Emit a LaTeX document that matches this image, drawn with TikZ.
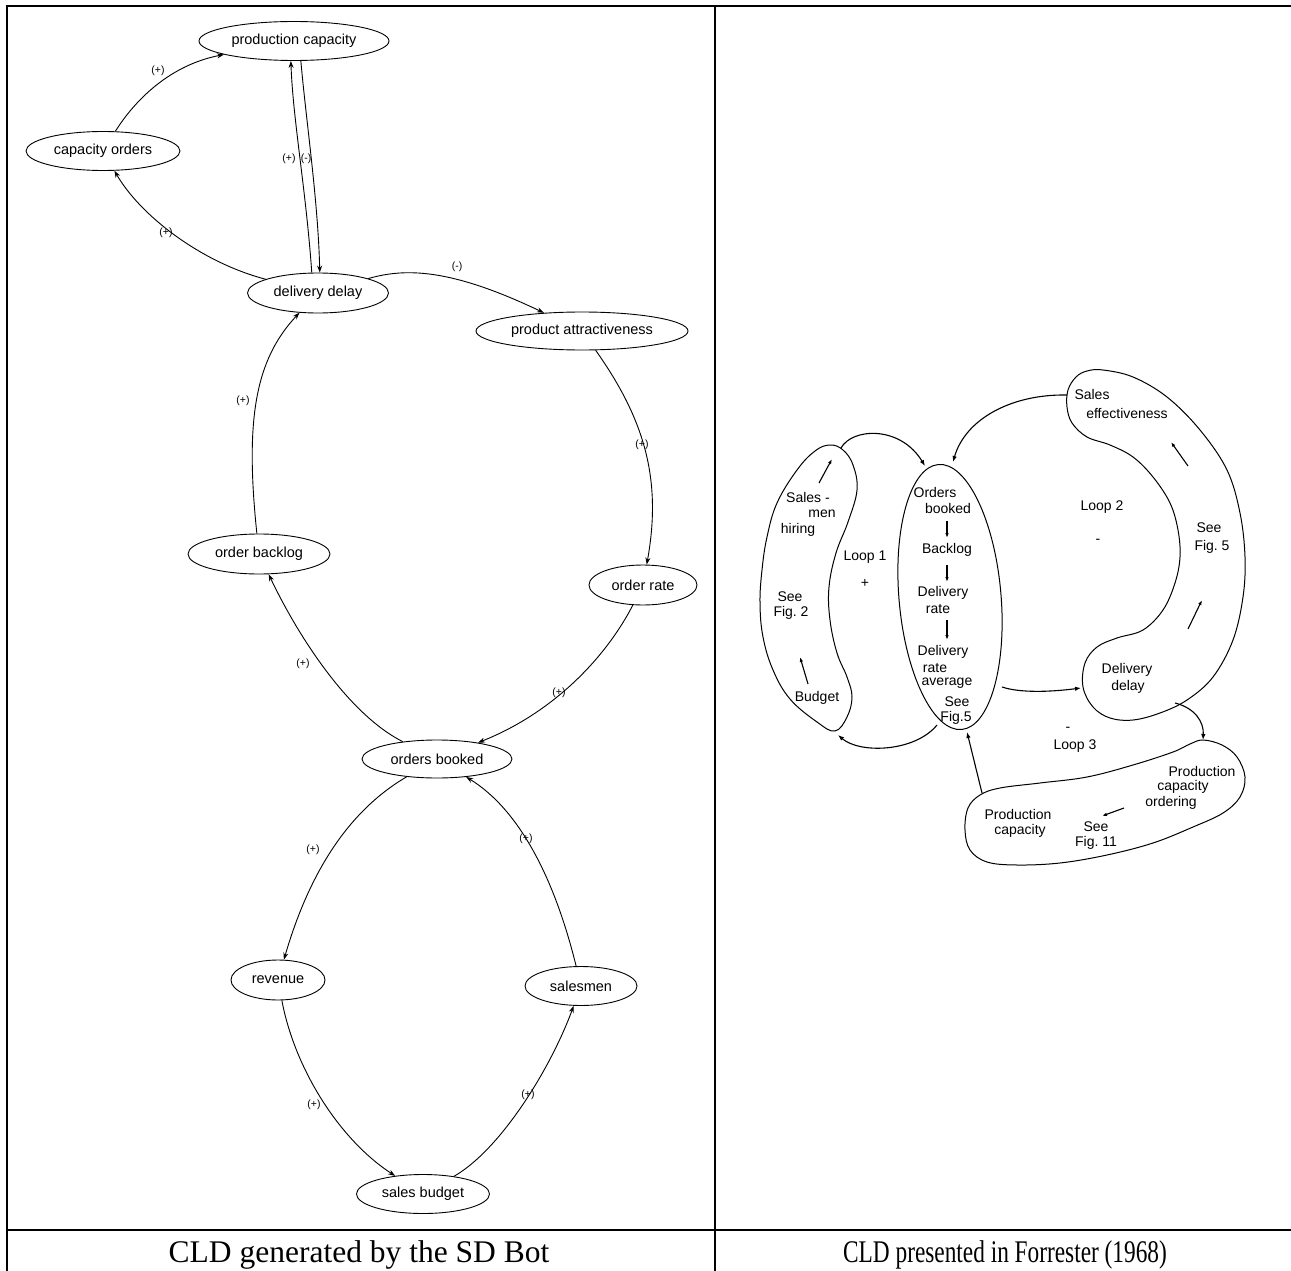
\documentclass[tikz,border=0pt]{standalone}
\usepackage{fontspec}
\setmainfont{Liberation Serif}
\newfontfamily\arialf{Liberation Sans}
\usetikzlibrary{shapes.geometric,arrows.meta}
\tikzset{
  var/.style={ellipse, draw, line width=0.9pt, inner sep=0pt, font=\arialf\fontsize{14.5}{16}\selectfont},
  lnk/.style={draw, line width=0.9pt, -{Stealth[length=7pt,width=5pt]}},
  pol/.style={font=\arialf\fontsize{10.5}{12}\selectfont, inner sep=0pt},
  hand/.style={font=\arialf\fontsize{14}{16}\selectfont, inner sep=0pt},
  blob/.style={draw, line width=1pt},
  farr/.style={line width=1.1pt, -{Latex[length=6pt,width=4.5pt]}},
  tarr/.style={line width=1.1pt, -{Latex[length=5pt,width=3.5pt]}},
  tbl/.style={line width=2.4pt},
  capt/.style={inner sep=0pt, font=\fontsize{31.5}{36}\selectfont}
}
\begin{document}
\begin{tikzpicture}[x=1pt,y=-1pt]
\useasboundingbox (0,0) rectangle (1291,1271);
% table
\draw[tbl] (7,6) -- (1291,6);
\draw[tbl] (7,5) -- (7,1271);
\draw[tbl] (715,6) -- (715,1271);
\draw[tbl] (7,1230) -- (1291,1230);
\node[capt] (cap1) at (359,1255) {CLD generated by the SD Bot};
\node[capt, xscale=0.74] (cap2) at (1005,1255) {CLD presented in Forrester (1968)};

% ---------- left diagram ----------
\node[var, minimum width=190pt, minimum height=39pt] (prod) at (294,41) {production capacity};
\node[var, minimum width=154pt, minimum height=39pt] (cap) at (103,151) {capacity orders};
\node[var, minimum width=141pt, minimum height=40pt] (dd) at (318,293) {delivery delay};
\node[var, minimum width=212pt, minimum height=38pt] (pa) at (582,331) {product attractiveness};
\node[var, minimum width=142pt, minimum height=40pt] (obl) at (259,554) {order backlog};
\node[var, minimum width=108pt, minimum height=40pt] (ordr) at (643,585) {order rate};
\node[var, minimum width=150pt, minimum height=38pt] (ob) at (437,759) {orders booked};
\node[var, minimum width=94pt, minimum height=40pt] (rev) at (278,980) {revenue};
\node[var, minimum width=112pt, minimum height=39pt] (sm) at (581,986) {salesmen};
\node[var, minimum width=133pt, minimum height=39pt] (sb) at (423,1194) {sales budget};

\draw[lnk] (cap) .. controls (135,100) and (170,65) .. (prod);
\draw[lnk] (dd) .. controls (200,262) and (140,215) .. (cap);
\draw[lnk] (dd.107) .. controls (306,190) and (293,120) .. (prod.261);
\draw[lnk] (prod.289) .. controls (306,120) and (318,200) .. (dd.85);
\draw[lnk] (dd) .. controls (405,268) and (450,268) .. (pa);
\draw[lnk] (pa) .. controls (645,420) and (662,480) .. (ordr);
\draw[lnk] (obl) .. controls (245,420) and (255,360) .. (dd);
\draw[lnk] (ob) .. controls (350,715) and (300,640) .. (obl);
\draw[lnk] (ordr) .. controls (610,650) and (560,710) .. (ob);
\draw[lnk] (ob) .. controls (350,810) and (310,870) .. (rev);
\draw[lnk] (sm) .. controls (555,880) and (520,810) .. (ob);
\draw[lnk] (rev) .. controls (295,1070) and (340,1140) .. (sb);
\draw[lnk] (sb) .. controls (500,1150) and (550,1070) .. (sm);

\node[pol] (l1) at (158,71) {(+)};
\node[pol] (l2) at (166,233) {(+)};
\node[pol] (l3) at (289,159) {(+)};
\node[pol] (l4) at (306,159) {(-)};
\node[pol] (l5) at (457,267) {(-)};
\node[pol] (l6) at (642,445) {(+)};
\node[pol] (l7) at (243,401) {(+)};
\node[pol] (l8) at (303,664) {(+)};
\node[pol] (l9) at (559,693) {(+)};
\node[pol] (l10) at (313,850) {(+)};
\node[pol] (l11) at (526,839) {(+)};
\node[pol] (l12) at (314,1105) {(+)};
\node[pol] (l13) at (528,1095) {(+)};

% ---------- right diagram (Forrester) ----------
% left blob
\draw[blob] plot[smooth cycle, tension=0.65] coordinates {
  (830,445) (843,450) (853,465) (857,490) (848,522) (836,553) (829,587)
  (830,620) (837,653) (847,677) (852,697) (847,717) (835,731) (817,722)
  (790,699) (773,670) (763,637) (760,603) (762,570) (767,537) (777,503)
  (797,470) (815,451)};
% middle egg
\draw[blob, rotate around={5:(950,597)}] (950,597) ellipse [x radius=51, y radius=133];
% crescent
\draw[blob] plot[smooth cycle, tension=0.6] coordinates {
  (1087,371) (1103,370) (1133,377) (1167,397) (1200,430) (1227,470)
  (1240,513) (1245,557) (1243,597) (1233,640) (1213,677) (1187,700)
  (1160,713) (1133,720) (1110,718) (1093,707) (1083,687) (1085,663)
  (1097,647) (1117,638) (1143,630) (1163,610) (1175,583) (1180,557)
  (1178,530) (1170,503) (1153,477) (1133,457) (1110,445) (1087,437)
  (1072,423) (1067,407) (1068,390) (1076,377)};
% bottom blob
\draw[blob] plot[smooth cycle, tension=0.6] coordinates {
  (1203,740) (1222,745) (1237,757) (1245,777) (1240,797) (1223,813)
  (1193,827) (1153,843) (1107,855) (1060,863) (1017,865) (987,862)
  (970,850) (965,830) (968,808) (980,795) (1000,788) (1040,783)
  (1087,777) (1133,765) (1173,752) (1190,744)};

% connectors between blobs
\coordinate (a1) at (841,448); \coordinate (a2) at (925,466);
\draw[farr] (a1) .. controls (852,428) and (900,425) .. (a2);
\coordinate (b1) at (1067,395); \coordinate (b2) at (953,462);
\draw[farr] (b1) .. controls (1010,394) and (965,420) .. (b2);
\coordinate (c1) at (937,725); \coordinate (c2) at (838,735);
\draw[farr] (c1) .. controls (915,752) and (860,754) .. (c2);
\coordinate (d1) at (982,793); \coordinate (d2) at (967,732);
\draw[farr] (d1) -- (d2);
\coordinate (e1) at (1002,687); \coordinate (e2) at (1081,688);
\draw[farr] (e1) .. controls (1020,693) and (1050,692) .. (e2);
\coordinate (f1) at (1175,703); \coordinate (f2) at (1203,740);
\draw[farr] (f1) .. controls (1195,708) and (1204,722) .. (f2);

% small arrows inside blobs
\coordinate (s1a) at (819,483); \coordinate (s1b) at (832,459);
\draw[tarr] (s1a) -- (s1b);
\coordinate (s2a) at (808,684); \coordinate (s2b) at (800,657);
\draw[tarr] (s2a) -- (s2b);
\coordinate (s3a) at (947,521); \coordinate (s3b) at (947,538);
\draw[tarr] (s3a) -- (s3b);
\coordinate (s4a) at (947,565); \coordinate (s4b) at (947,582);
\draw[tarr] (s4a) -- (s4b);
\coordinate (s5a) at (947,620); \coordinate (s5b) at (947,640);
\draw[tarr] (s5a) -- (s5b);
\coordinate (s6a) at (1188,466); \coordinate (s6b) at (1171,442);
\draw[tarr] (s6a) -- (s6b);
\coordinate (s7a) at (1188,629); \coordinate (s7b) at (1202,600);
\draw[tarr] (s7a) -- (s7b);
\coordinate (s8a) at (1124,808); \coordinate (s8b) at (1102,816);
\draw[tarr] (s8a) -- (s8b);

% texts
\node[hand] (h1) at (808,497) {Sales -};
\node[hand] (h2) at (822,514) {men};
\node[hand] (h3) at (798,530) {hiring};
\node[hand] (h4) at (790,597) {See};
\node[hand] (h5) at (791,613) {Fig.\ 2};
\node[hand] (h6) at (817,698) {Budget};
\node[hand] (h7) at (865,557) {Loop 1};
\node[hand] (h8) at (865,583) {+};
\node[hand] (h9) at (935,492) {Orders};
\node[hand] (h10) at (948,508) {booked};
\node[hand] (h11) at (947,550) {Backlog};
\node[hand] (h12) at (943,593) {Delivery};
\node[hand] (h13) at (938,609) {rate};
\node[hand] (h14) at (943,652) {Delivery};
\node[hand] (h15) at (935,668) {rate};
\node[hand] (h16) at (947,683) {average};
\node[hand] (h17) at (957,702) {See};
\node[hand] (h18) at (956,718) {Fig.5};
\node[hand] (h19) at (1092,394) {Sales};
\node[hand] (h20) at (1127,413) {effectiveness};
\node[hand] (h21) at (1102,507) {Loop 2};
\node[hand] (h22) at (1098,541) {-};
\node[hand] (h23) at (1209,528) {See};
\node[hand] (h24) at (1212,547) {Fig.\ 5};
\node[hand] (h25) at (1127,670) {Delivery};
\node[hand] (h26) at (1128,687) {delay};
\node[hand] (h27) at (1068,729) {-};
\node[hand] (h28) at (1075,746) {Loop 3};
\node[hand] (h29) at (1202,771) {Production};
\node[hand] (h30) at (1183,787) {capacity};
\node[hand] (h31) at (1171,803) {ordering};
\node[hand] (h32) at (1096,827) {See};
\node[hand] (h33) at (1096,843) {Fig.\ 11};
\node[hand] (h34) at (1018,814) {Production};
\node[hand] (h35) at (1020,831) {capacity};
\end{tikzpicture}
\end{document}
